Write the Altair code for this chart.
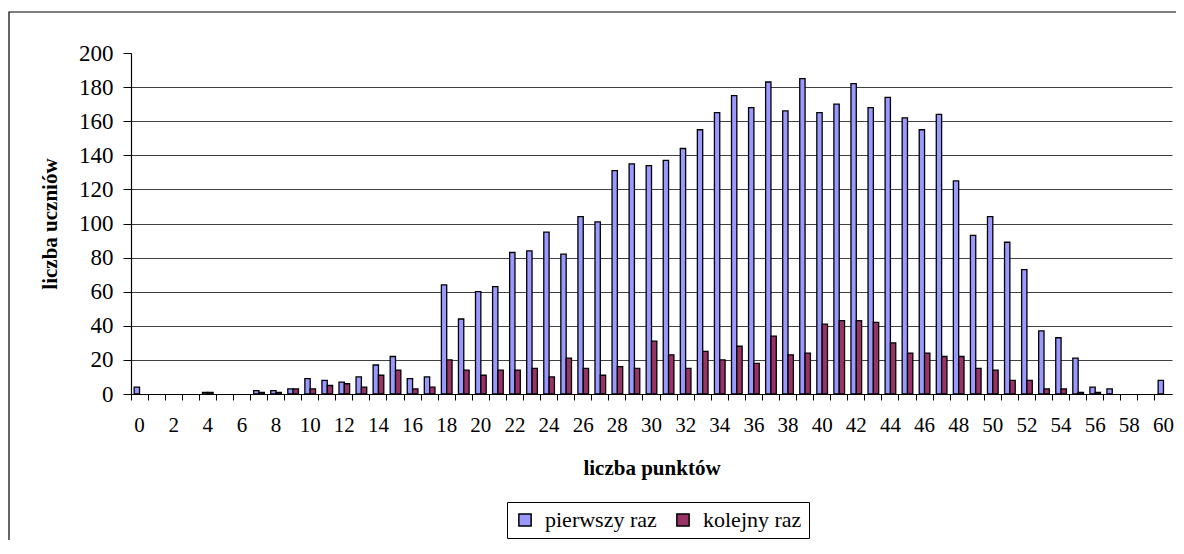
import altair as alt
import pandas as pd

# ---- data ----
points = list(range(61))
pierwszy = [4, 0, 0, 0, 1, 0, 0, 2, 2, 3,
            9, 8, 7, 10, 17, 22, 9, 10, 64, 44,
            60, 63, 83, 84, 95, 82, 104, 101, 131, 135,
            134, 137, 144, 155, 165, 175, 168, 183, 166, 185,
            165, 170, 182, 168, 174, 162, 155, 164, 125, 93,
            104, 89, 73, 37, 33, 21, 4, 3, 0, 0, 8]
kolejny = [0, 0, 0, 0, 1, 0, 0, 1, 1, 3,
           3, 5, 6, 4, 11, 14, 3, 4, 20, 14,
           11, 14, 14, 15, 10, 21, 15, 11, 16, 15,
           31, 23, 15, 25, 20, 28, 18, 34, 23, 24,
           41, 43, 43, 42, 30, 24, 24, 22, 22, 15,
           14, 8, 8, 3, 3, 1, 1, 0, 0, 0, 0]
series = ["pierwszy raz", "kolejny raz"]
colors = ["#9999FF", "#993366"]
y_ticks = list(range(0, 201, 20))

rows = []
for p, a, b in zip(points, pierwszy, kolejny):
    rows.append({"punkty": p, "seria": series[0], "liczba": a})
    rows.append({"punkty": p, "seria": series[1], "liczba": b})
df = pd.DataFrame(rows)

W, H = 1041, 341
RIGHT = 4
BOTTOM = 146
FONT = "'Liberation Serif', 'Times New Roman', serif"

bars = alt.Chart(df).transform_filter(
    "datum.liczba > 0"
).mark_bar(stroke="black", strokeWidth=1.3).encode(
    x=alt.X(
        "punkty:O",
        title="liczba punktów",
        scale=alt.Scale(domain=points, paddingInner=0, paddingOuter=0),
        axis=alt.Axis(
            bandPosition=0,
            labelExpr="datum.value % 2 == 0 ? datum.label : ''",
            labelAngle=0,
            labelOverlap=False,
            labelFontSize=21,
            labelPadding=14,
            tickSize=6,
            grid=False,
            titleFontSize=21,
            titleFontWeight="bold",
            titlePadding=22,
        ),
    ),
    xOffset=alt.XOffset(
        "seria:N", sort=series,
        scale=alt.Scale(domain=series, paddingInner=0, paddingOuter=0.6),
    ),
    y=alt.Y(
        "liczba:Q",
        title="liczba uczniów",
        scale=alt.Scale(domain=[0, 200], nice=False),
        axis=alt.Axis(
            values=y_ticks,
            labelFontSize=23,
            labelPadding=10,
            tickSize=8,
            grid=True,
            gridColor="#404040",
            gridWidth=1,
            gridOpacity={"condition": {"test": "datum.value == 200", "value": 0}, "value": 1},
            titleFontSize=21,
            titleFontWeight="bold",
            titlePadding=18,
        ),
    ),
    color=alt.Color(
        "seria:N",
        sort=series,
        scale=alt.Scale(domain=series, range=colors),
        legend=alt.Legend(
            title=None,
            orient="none",
            legendX=376,
            legendY=449,
            direction="horizontal",
            strokeColor="black",
            fillColor="white",
            padding=7,
            symbolType="square",
            symbolSize=150,
            symbolStrokeColor="black",
            symbolStrokeWidth=1.5,
            labelFont=FONT,
            labelFontSize=22,
            labelColor="black",
            labelOffset=9,
            columnPadding=15,
        ),
    ),
)

# outer chart frame: a rectangle whose right and bottom edges lie outside the picture
frame = alt.Chart(alt.Data(values=[{}])).mark_rect(
    fill="white", fillOpacity=0, stroke="black", strokeWidth=1.2
).encode(
    x=alt.value(-122), x2=alt.value(W + RIGHT + 30),
    y=alt.value(-41), y2=alt.value(H + BOTTOM + 30),
)

chart = alt.layer(frame, bars).properties(
    width=W,
    height=H,
    autosize=alt.AutoSizeParams(type="none"),
    padding={"left": 123, "top": 45, "right": RIGHT, "bottom": BOTTOM},
    background="white",
).configure_view(stroke=None).configure_axis(
    labelFont=FONT,
    titleFont=FONT,
    labelColor="black",
    titleColor="black",
    domainColor="black",
    tickColor="black",
    domainWidth=1.2,
).configure_legend(
    labelFont=FONT,
)

chart.save("out.html", embed_options={"renderer": "svg", "actions": False})
